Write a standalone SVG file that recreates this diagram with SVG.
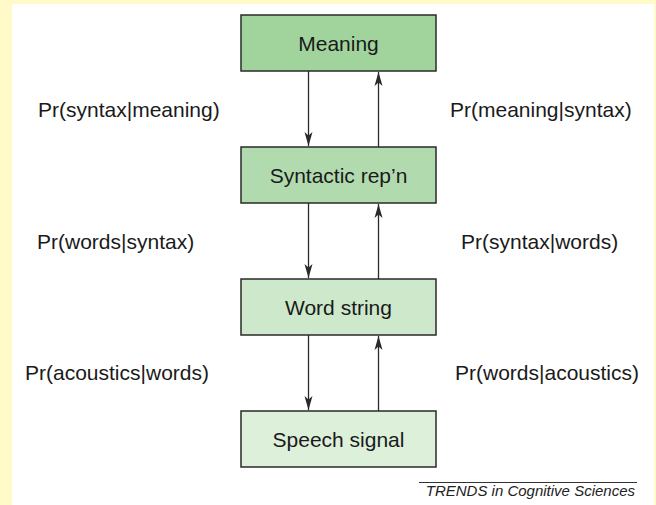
<svg xmlns="http://www.w3.org/2000/svg" width="656" height="505" viewBox="0 0 656 505">
<style>
.box{stroke:#2a2a2a;stroke-width:1.5}
.t{font-family:"Liberation Sans",Arial,sans-serif;font-size:21px;fill:#1a1a1a}
.c{text-anchor:middle}
.ln{stroke:#2a2a2a;stroke-width:1.3;fill:none}
.cap{font-family:"Liberation Sans",Arial,sans-serif;font-size:15px;font-style:italic;fill:#222;text-anchor:end}
</style>
<defs>
<marker id="ah" viewBox="-15 -5 16 10" refX="0" refY="0" markerWidth="16" markerHeight="10" markerUnits="userSpaceOnUse" orient="auto">
<path d="M0,0 L-14,-4 L-10.5,0 L-14,4 Z" fill="#2a2a2a"/>
</marker>
</defs>
<rect x="0" y="0" width="656" height="505" fill="#FFFAC8"/>
<rect x="12" y="4" width="642" height="501" fill="#FFFFFF"/>
<g id="connectors">
<line class="ln" x1="308.5" y1="71" x2="308.5" y2="146" marker-end="url(#ah)"/>
<line class="ln" x1="378.5" y1="147" x2="378.5" y2="72" marker-end="url(#ah)"/>
<line class="ln" x1="308.5" y1="203" x2="308.5" y2="278" marker-end="url(#ah)"/>
<line class="ln" x1="378.5" y1="279" x2="378.5" y2="204" marker-end="url(#ah)"/>
<line class="ln" x1="308.5" y1="335" x2="308.5" y2="410" marker-end="url(#ah)"/>
<line class="ln" x1="378.5" y1="411" x2="378.5" y2="336" marker-end="url(#ah)"/>
</g>
<g id="meaning">
<rect class="box" x="241" y="15" width="195" height="56" fill="#A1D49D"/>
<text class="t c" x="338.5" y="51">Meaning</text>
</g>
<g id="syntactic">
<rect class="box" x="241" y="147" width="195" height="56" fill="#B1DBAF"/>
<text class="t c" x="338.5" y="183">Syntactic rep’n</text>
</g>
<g id="word">
<rect class="box" x="241" y="279" width="195" height="56" fill="#CDE8CB"/>
<text class="t c" x="338.5" y="315">Word string</text>
</g>
<g id="speech">
<rect class="box" x="241" y="411" width="195" height="56" fill="#DDF0DA"/>
<text class="t c" x="338.5" y="447">Speech signal</text>
</g>
<g id="labels">
<text class="t" x="38" y="117">Pr(syntax|meaning)</text>
<text class="t" x="450" y="117">Pr(meaning|syntax)</text>
<text class="t" x="37" y="249">Pr(words|syntax)</text>
<text class="t" x="461" y="249">Pr(syntax|words)</text>
<text class="t" x="25" y="380">Pr(acoustics|words)</text>
<text class="t" x="455" y="380">Pr(words|acoustics)</text>
</g>
<g id="caption">
<line x1="419" y1="482.5" x2="637" y2="482.5" stroke="#333" stroke-width="1"/>
<text class="cap" x="635" y="496">TRENDS in Cognitive Sciences</text>
</g>
</svg>
